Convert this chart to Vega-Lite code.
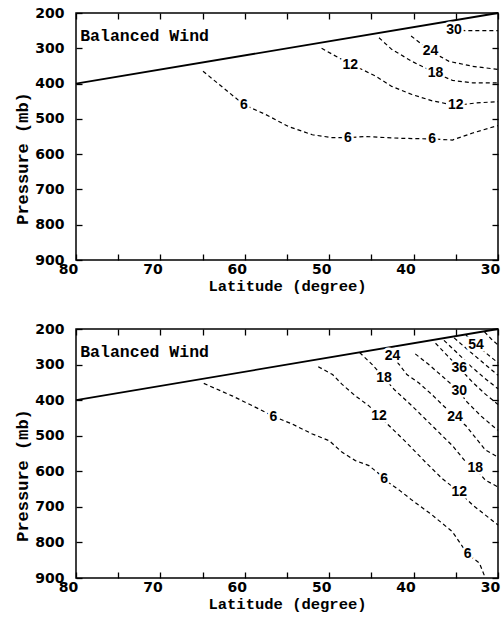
{
  "$schema": "https://vega.github.io/schema/vega-lite/v6.json",
  "background": "white",
  "padding": {"left": 12, "top": 5, "right": 2, "bottom": 2},
  "spacing": 26,
  "config": {
    "view": {"stroke": "black", "strokeWidth": 1.5},
    "axis": {"grid": false, "domain": false, "tickColor": "black", "tickWidth": 1.3, "labelColor": "black", "titleColor": "black"}
  },
  "datasets": {
    "solid": [{"lat": 80, "p": 400}, {"lat": 30, "p": 200}],
    "wind_txt": [{"lat": 79.5, "p": 280, "t": "Balanced Wind"}],
    "top_lines": [
      {"k": "6", "o": 1, "lat": 64.95, "p": 365}, {"k": "6", "o": 2, "lat": 60.1, "p": 460}, {"k": "6", "o": 3, "lat": 57.5, "p": 488},
      {"k": "6", "o": 4, "lat": 54.8, "p": 522}, {"k": "6", "o": 5, "lat": 52.0, "p": 545}, {"k": "6", "o": 6, "lat": 49.7, "p": 553},
      {"k": "6", "o": 7, "lat": 47.8, "p": 553}, {"k": "6", "o": 8, "lat": 45.7, "p": 550}, {"k": "6", "o": 9, "lat": 41.7, "p": 555},
      {"k": "6", "o": 10, "lat": 37.8, "p": 557}, {"k": "6", "o": 11, "lat": 35.4, "p": 560}, {"k": "6", "o": 12, "lat": 33.0, "p": 540},
      {"k": "6", "o": 13, "lat": 30, "p": 519},
      {"k": "12", "o": 1, "lat": 50.9, "p": 300}, {"k": "12", "o": 2, "lat": 48.5, "p": 332}, {"k": "12", "o": 3, "lat": 47.5, "p": 346},
      {"k": "12", "o": 4, "lat": 46.1, "p": 360}, {"k": "12", "o": 5, "lat": 44.5, "p": 379}, {"k": "12", "o": 6, "lat": 42.6, "p": 408},
      {"k": "12", "o": 7, "lat": 40.2, "p": 431}, {"k": "12", "o": 8, "lat": 37.8, "p": 449}, {"k": "12", "o": 9, "lat": 35.0, "p": 462},
      {"k": "12", "o": 10, "lat": 32.6, "p": 455}, {"k": "12", "o": 11, "lat": 30, "p": 451},
      {"k": "18", "o": 1, "lat": 44.1, "p": 270}, {"k": "18", "o": 2, "lat": 42.6, "p": 303}, {"k": "18", "o": 3, "lat": 40.2, "p": 337},
      {"k": "18", "o": 4, "lat": 37.4, "p": 370}, {"k": "18", "o": 5, "lat": 35.4, "p": 391}, {"k": "18", "o": 6, "lat": 33.0, "p": 398},
      {"k": "18", "o": 7, "lat": 30, "p": 398},
      {"k": "24", "o": 1, "lat": 40.3, "p": 265}, {"k": "24", "o": 2, "lat": 39.0, "p": 289}, {"k": "24", "o": 3, "lat": 38.0, "p": 308},
      {"k": "24", "o": 4, "lat": 35.8, "p": 337}, {"k": "24", "o": 5, "lat": 33.0, "p": 351}, {"k": "24", "o": 6, "lat": 30, "p": 360},
      {"k": "30", "o": 1, "lat": 36.0, "p": 247}, {"k": "30", "o": 2, "lat": 33.8, "p": 250}, {"k": "30", "o": 3, "lat": 30, "p": 250}
    ],
    "top_labels": [
      {"lat": 60.1, "p": 460, "t": "6"}, {"lat": 47.8, "p": 553, "t": "6"}, {"lat": 37.8, "p": 557, "t": "6"},
      {"lat": 47.5, "p": 346, "t": "12"}, {"lat": 35.0, "p": 462, "t": "12"}, {"lat": 37.4, "p": 370, "t": "18"},
      {"lat": 38.0, "p": 308, "t": "24"}, {"lat": 35.2, "p": 247, "t": "30"}
    ],
    "bottom_lines": [
      {"k": "6", "o": 1, "lat": 64.86, "p": 353}, {"k": "6", "o": 2, "lat": 61.5, "p": 388}, {"k": "6", "o": 3, "lat": 58.3, "p": 425},
      {"k": "6", "o": 4, "lat": 56.6, "p": 446}, {"k": "6", "o": 5, "lat": 54.4, "p": 467}, {"k": "6", "o": 6, "lat": 52.0, "p": 495},
      {"k": "6", "o": 7, "lat": 50.0, "p": 514}, {"k": "6", "o": 8, "lat": 48.5, "p": 546}, {"k": "6", "o": 9, "lat": 46.9, "p": 570},
      {"k": "6", "o": 10, "lat": 45.3, "p": 584}, {"k": "6", "o": 11, "lat": 44.1, "p": 607}, {"k": "6", "o": 12, "lat": 43.5, "p": 623},
      {"k": "6", "o": 13, "lat": 41.7, "p": 653}, {"k": "6", "o": 14, "lat": 40.2, "p": 681}, {"k": "6", "o": 15, "lat": 37.8, "p": 723},
      {"k": "6", "o": 16, "lat": 35.4, "p": 770}, {"k": "6", "o": 17, "lat": 33.6, "p": 833}, {"k": "6", "o": 18, "lat": 32.2, "p": 858},
      {"k": "6", "o": 19, "lat": 31.65, "p": 891}, {"k": "6", "o": 20, "lat": 31.6, "p": 900},
      {"k": "12", "o": 1, "lat": 51.3, "p": 306}, {"k": "12", "o": 2, "lat": 49.6, "p": 328}, {"k": "12", "o": 3, "lat": 48.5, "p": 355},
      {"k": "12", "o": 4, "lat": 46.9, "p": 388}, {"k": "12", "o": 5, "lat": 45.3, "p": 416}, {"k": "12", "o": 6, "lat": 44.1, "p": 444},
      {"k": "12", "o": 7, "lat": 42.9, "p": 472}, {"k": "12", "o": 8, "lat": 40.9, "p": 518}, {"k": "12", "o": 9, "lat": 38.6, "p": 574},
      {"k": "12", "o": 10, "lat": 36.6, "p": 621}, {"k": "12", "o": 11, "lat": 34.6, "p": 658}, {"k": "12", "o": 12, "lat": 33.0, "p": 695},
      {"k": "12", "o": 13, "lat": 30, "p": 751},
      {"k": "18", "o": 1, "lat": 46.4, "p": 266}, {"k": "18", "o": 2, "lat": 44.9, "p": 300}, {"k": "18", "o": 3, "lat": 43.5, "p": 338},
      {"k": "18", "o": 4, "lat": 42.3, "p": 370}, {"k": "18", "o": 5, "lat": 40.2, "p": 416}, {"k": "18", "o": 6, "lat": 37.8, "p": 472},
      {"k": "18", "o": 7, "lat": 35.4, "p": 528}, {"k": "18", "o": 8, "lat": 33.8, "p": 574}, {"k": "18", "o": 9, "lat": 32.7, "p": 591},
      {"k": "18", "o": 10, "lat": 31.5, "p": 625}, {"k": "18", "o": 11, "lat": 30, "p": 644},
      {"k": "24", "o": 1, "lat": 42.9, "p": 262}, {"k": "24", "o": 2, "lat": 42.5, "p": 276}, {"k": "24", "o": 3, "lat": 41.7, "p": 300},
      {"k": "24", "o": 4, "lat": 40.8, "p": 328}, {"k": "24", "o": 5, "lat": 39.4, "p": 351}, {"k": "24", "o": 6, "lat": 37.8, "p": 385},
      {"k": "24", "o": 7, "lat": 36.5, "p": 415}, {"k": "24", "o": 8, "lat": 35.1, "p": 446}, {"k": "24", "o": 9, "lat": 33.8, "p": 472},
      {"k": "24", "o": 10, "lat": 31.5, "p": 540}, {"k": "24", "o": 11, "lat": 30, "p": 560},
      {"k": "30", "o": 1, "lat": 39.8, "p": 270}, {"k": "30", "o": 2, "lat": 38.2, "p": 300}, {"k": "30", "o": 3, "lat": 36.5, "p": 335},
      {"k": "30", "o": 4, "lat": 35.3, "p": 360}, {"k": "30", "o": 5, "lat": 34.6, "p": 374}, {"k": "30", "o": 6, "lat": 33.8, "p": 402},
      {"k": "30", "o": 7, "lat": 32.0, "p": 445}, {"k": "30", "o": 8, "lat": 30, "p": 485},
      {"k": "36", "o": 1, "lat": 37.4, "p": 240}, {"k": "36", "o": 2, "lat": 36.0, "p": 275}, {"k": "36", "o": 3, "lat": 34.6, "p": 309},
      {"k": "36", "o": 4, "lat": 33.0, "p": 350}, {"k": "36", "o": 5, "lat": 31.5, "p": 383}, {"k": "36", "o": 6, "lat": 30, "p": 412},
      {"k": "42", "o": 1, "lat": 36.4, "p": 232}, {"k": "42", "o": 2, "lat": 34.8, "p": 268}, {"k": "42", "o": 3, "lat": 33.2, "p": 305},
      {"k": "42", "o": 4, "lat": 31.6, "p": 338}, {"k": "42", "o": 5, "lat": 30, "p": 368},
      {"k": "48", "o": 1, "lat": 35.2, "p": 225}, {"k": "48", "o": 2, "lat": 33.6, "p": 258}, {"k": "48", "o": 3, "lat": 32.0, "p": 290},
      {"k": "48", "o": 4, "lat": 30, "p": 330},
      {"k": "54", "o": 1, "lat": 33.8, "p": 217}, {"k": "54", "o": 2, "lat": 32.6, "p": 244}, {"k": "54", "o": 3, "lat": 31.3, "p": 270},
      {"k": "54", "o": 4, "lat": 30, "p": 295},
      {"k": "60", "o": 1, "lat": 31.6, "p": 208}, {"k": "60", "o": 2, "lat": 30.8, "p": 228}, {"k": "60", "o": 3, "lat": 30, "p": 245}
    ],
    "bottom_labels": [
      {"lat": 56.6, "p": 446, "t": "6"}, {"lat": 43.5, "p": 623, "t": "6"}, {"lat": 33.6, "p": 833, "t": "6"},
      {"lat": 44.1, "p": 444, "t": "12"}, {"lat": 34.6, "p": 658, "t": "12"}, {"lat": 43.5, "p": 338, "t": "18"},
      {"lat": 32.7, "p": 591, "t": "18"}, {"lat": 42.5, "p": 276, "t": "24"}, {"lat": 35.1, "p": 446, "t": "24"},
      {"lat": 34.6, "p": 374, "t": "30"}, {"lat": 34.6, "p": 309, "t": "36"}, {"lat": 32.6, "p": 244, "t": "54"}
    ]
  },
  "vconcat": [
    {
      "width": 422, "height": 247,
      "layer": [
        {
          "data": {"name": "top_lines"},
          "mark": {"type": "line", "color": "black", "strokeWidth": 1.2, "strokeDash": [4, 3]},
          "encoding": {
            "x": {"field": "lat", "type": "quantitative", "scale": {"domain": [30, 80], "reverse": true, "nice": false, "zero": false},
              "axis": {"orient": "bottom", "values": [30, 35, 40, 45, 50, 55, 60, 65, 70, 75, 80], "labelExpr": "datum.value % 10 === 0 ? datum.label : ''",
                "tickSize": -6, "labelPadding": 8, "labelOffset": -8, "labelFlush": false, "labelOverlap": false,
                "labelFont": "DejaVu Sans", "labelFontWeight": "bold", "labelFontSize": 14,
                "title": "Latitude (degree)", "titleFont": "Liberation Mono", "titleFontWeight": "bold", "titleFontSize": 15.5, "titlePadding": 2}},
            "y": {"field": "p", "type": "quantitative", "scale": {"domain": [200, 900], "reverse": true, "nice": false, "zero": false},
              "axis": {"orient": "left", "values": [200, 300, 400, 500, 600, 700, 800, 900], "tickSize": -6, "labelPadding": 18, "labelOverlap": false, "labelFlush": false,
                "labelFont": "DejaVu Sans", "labelFontWeight": "bold", "labelFontSize": 14,
                "title": "Pressure (mb)", "titleFont": "Liberation Mono", "titleFontWeight": "bold", "titleFontSize": 17,
                "titleX": -54, "titleY": 145, "titleAngle": -90, "titleAlign": "center", "titleBaseline": "middle"}},
            "detail": {"field": "k"},
            "order": {"field": "o", "type": "quantitative"}
          }
        },
        {
          "data": {"name": "solid"},
          "mark": {"type": "line", "color": "black", "strokeWidth": 1.8},
          "encoding": {
            "x": {"field": "lat", "type": "quantitative", "axis": {"orient": "top", "values": [30, 35, 40, 45, 50, 55, 60, 65, 70, 75, 80], "labels": false, "tickSize": -6, "title": null}},
            "y": {"field": "p", "type": "quantitative", "axis": {"orient": "right", "values": [200, 300, 400, 500, 600, 700, 800, 900], "labels": false, "tickSize": -6, "title": null}}
          }
        },
        {
          "data": {"name": "top_labels"},
          "mark": {"type": "text", "font": "Liberation Sans", "fontWeight": "bold", "fontSize": 14, "fill": "white", "stroke": "white", "strokeWidth": 5},
          "encoding": {
            "x": {"field": "lat", "type": "quantitative", "axis": null},
            "y": {"field": "p", "type": "quantitative", "axis": null},
            "text": {"field": "t"}
          }
        },
        {
          "data": {"name": "top_labels"},
          "mark": {"type": "text", "font": "Liberation Sans", "fontWeight": "bold", "fontSize": 14, "fill": "black"},
          "encoding": {
            "x": {"field": "lat", "type": "quantitative", "axis": null},
            "y": {"field": "p", "type": "quantitative", "axis": null},
            "text": {"field": "t"}
          }
        },
        {
          "data": {"name": "wind_txt"},
          "mark": {"type": "text", "font": "Liberation Mono", "fontWeight": "bold", "fontSize": 16.5, "fill": "black", "align": "left", "baseline": "alphabetic"},
          "encoding": {
            "x": {"field": "lat", "type": "quantitative", "axis": null},
            "y": {"field": "p", "type": "quantitative", "axis": null},
            "text": {"field": "t"}
          }
        }
      ]
    },
    {
      "width": 422, "height": 249,
      "layer": [
        {
          "data": {"name": "bottom_lines"},
          "mark": {"type": "line", "color": "black", "strokeWidth": 1.2, "strokeDash": [4, 3]},
          "encoding": {
            "x": {"field": "lat", "type": "quantitative", "scale": {"domain": [30, 80], "reverse": true, "nice": false, "zero": false},
              "axis": {"orient": "bottom", "values": [30, 35, 40, 45, 50, 55, 60, 65, 70, 75, 80], "labelExpr": "datum.value % 10 === 0 ? datum.label : ''",
                "tickSize": -6, "labelPadding": 8, "labelOffset": -8, "labelFlush": false, "labelOverlap": false,
                "labelFont": "DejaVu Sans", "labelFontWeight": "bold", "labelFontSize": 14,
                "title": "Latitude (degree)", "titleFont": "Liberation Mono", "titleFontWeight": "bold", "titleFontSize": 15.5, "titlePadding": 2}},
            "y": {"field": "p", "type": "quantitative", "scale": {"domain": [200, 900], "reverse": true, "nice": false, "zero": false},
              "axis": {"orient": "left", "values": [200, 300, 400, 500, 600, 700, 800, 900], "tickSize": -6, "labelPadding": 18, "labelOverlap": false, "labelFlush": false,
                "labelFont": "DejaVu Sans", "labelFontWeight": "bold", "labelFontSize": 14,
                "title": "Pressure (mb)", "titleFont": "Liberation Mono", "titleFontWeight": "bold", "titleFontSize": 17,
                "titleX": -54, "titleY": 146, "titleAngle": -90, "titleAlign": "center", "titleBaseline": "middle"}},
            "detail": {"field": "k"},
            "order": {"field": "o", "type": "quantitative"}
          }
        },
        {
          "data": {"name": "solid"},
          "mark": {"type": "line", "color": "black", "strokeWidth": 1.8},
          "encoding": {
            "x": {"field": "lat", "type": "quantitative", "axis": {"orient": "top", "values": [30, 35, 40, 45, 50, 55, 60, 65, 70, 75, 80], "labels": false, "tickSize": -6, "title": null}},
            "y": {"field": "p", "type": "quantitative", "axis": {"orient": "right", "values": [200, 300, 400, 500, 600, 700, 800, 900], "labels": false, "tickSize": -6, "title": null}}
          }
        },
        {
          "data": {"name": "bottom_labels"},
          "mark": {"type": "text", "font": "Liberation Sans", "fontWeight": "bold", "fontSize": 14, "fill": "white", "stroke": "white", "strokeWidth": 5},
          "encoding": {
            "x": {"field": "lat", "type": "quantitative", "axis": null},
            "y": {"field": "p", "type": "quantitative", "axis": null},
            "text": {"field": "t"}
          }
        },
        {
          "data": {"name": "bottom_labels"},
          "mark": {"type": "text", "font": "Liberation Sans", "fontWeight": "bold", "fontSize": 14, "fill": "black"},
          "encoding": {
            "x": {"field": "lat", "type": "quantitative", "axis": null},
            "y": {"field": "p", "type": "quantitative", "axis": null},
            "text": {"field": "t"}
          }
        },
        {
          "data": {"name": "wind_txt"},
          "mark": {"type": "text", "font": "Liberation Mono", "fontWeight": "bold", "fontSize": 16.5, "fill": "black", "align": "left", "baseline": "alphabetic"},
          "encoding": {
            "x": {"field": "lat", "type": "quantitative", "axis": null},
            "y": {"field": "p", "type": "quantitative", "axis": null},
            "text": {"field": "t"}
          }
        }
      ]
    }
  ]
}
